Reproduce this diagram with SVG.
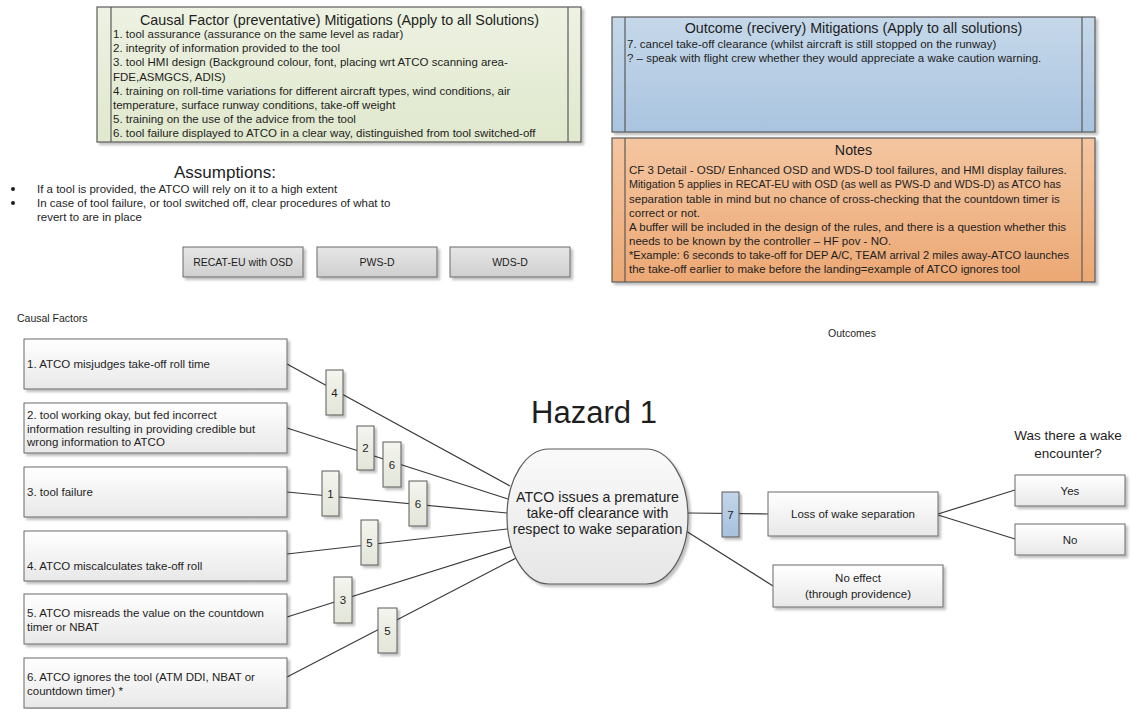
<svg xmlns="http://www.w3.org/2000/svg" width="1131" height="709" viewBox="0 0 1131 709">
<defs>
<linearGradient id="gGreen" x1="0" y1="0" x2="0" y2="1"><stop offset="0" stop-color="#edf2e2"/><stop offset="1" stop-color="#e0e8cd"/></linearGradient>
<linearGradient id="gBlue" x1="0" y1="0" x2="0" y2="1"><stop offset="0" stop-color="#c6d8ea"/><stop offset="1" stop-color="#a9c4df"/></linearGradient>
<linearGradient id="gOrange" x1="0" y1="0" x2="0" y2="1"><stop offset="0" stop-color="#f4c6a1"/><stop offset="1" stop-color="#eca874"/></linearGradient>
<linearGradient id="gBox" x1="0" y1="0" x2="0" y2="1"><stop offset="0" stop-color="#ffffff"/><stop offset="1" stop-color="#e8e8e8"/></linearGradient>
<linearGradient id="gLab" x1="0" y1="0" x2="0" y2="1"><stop offset="0" stop-color="#f4f5ef"/><stop offset="1" stop-color="#e2e5d8"/></linearGradient>
<linearGradient id="gLab7" x1="0" y1="0" x2="0" y2="1"><stop offset="0" stop-color="#c3d6ea"/><stop offset="1" stop-color="#a6c1de"/></linearGradient>
<linearGradient id="gBtn" x1="0" y1="0" x2="0" y2="1"><stop offset="0" stop-color="#e6e6e6"/><stop offset="1" stop-color="#cfcfcf"/></linearGradient>
<linearGradient id="gHaz" x1="0" y1="0" x2="0" y2="1"><stop offset="0" stop-color="#fafafa"/><stop offset="1" stop-color="#e6e6e6"/></linearGradient>
<filter id="sh" x="-10%" y="-10%" width="130%" height="140%"><feDropShadow dx="2.5" dy="2.5" stdDeviation="1.2" flood-color="#000" flood-opacity="0.25"/></filter>
</defs>
<style>
text{font-family:"Liberation Sans",Arial,sans-serif;fill:#1e1e1e}
.b{font-size:11.5px}
.t{font-size:14.3px}
.c{text-anchor:middle}
.s{font-size:10.5px}
.frame{stroke:#5a5a5a;stroke-width:1.2;filter:url(#sh)}
.inner{stroke:#5a5a5a;stroke-width:1.2}
.box{fill:url(#gBox);stroke:#6a6a6a;stroke-width:1;filter:url(#sh)}
.lab{fill:url(#gLab);stroke:#5a5a5a;stroke-width:1;filter:url(#sh)}
.btn{fill:url(#gBtn);stroke:#6a6a6a;stroke-width:1;filter:url(#sh)}
.con line{stroke:#3a3a3a;stroke-width:1.2}
</style>

<g id="preventative-mitigations">
<rect x="97" y="7" width="484" height="135" fill="url(#gGreen)" class="frame"/>
<line x1="111" y1="7" x2="111" y2="142" class="inner"/>
<line x1="568" y1="7" x2="568" y2="142" class="inner"/>
<text x="339.5" y="25" class="t c">Causal Factor (preventative) Mitigations (Apply to all Solutions)</text>
<text class="b" x="113" y="38">1. tool assurance (assurance on the same level as radar)</text>
<text class="b" x="113" y="52.2">2. integrity of information provided to the tool</text>
<text class="b" x="113" y="66.4">3. tool HMI design (Background colour, font, placing wrt ATCO scanning area-</text>
<text class="b" x="113" y="80.6">FDE,ASMGCS, ADIS)</text>
<text class="b" x="113" y="94.8">4. training on roll-time variations for different aircraft types, wind conditions, air</text>
<text class="b" x="113" y="109">temperature, surface runway conditions, take-off weight</text>
<text class="b" x="113" y="123.2">5. training on the use of the advice from the tool</text>
<text class="b" x="113" y="137.4">6. tool failure displayed to ATCO in a clear way, distinguished from tool switched-off</text>
</g>

<g id="recovery-mitigations">
<rect x="612" y="17" width="483" height="115" fill="url(#gBlue)" class="frame"/>
<line x1="625" y1="17" x2="625" y2="132" class="inner"/>
<line x1="1082" y1="17" x2="1082" y2="132" class="inner"/>
<text x="853.5" y="33" class="t c">Outcome (recivery) Mitigations (Apply to all solutions)</text>
<text class="b" x="627" y="48">7. cancel take-off clearance (whilst aircraft is still stopped on the runway)</text>
<text class="b" x="627" y="62">? – speak with flight crew whether they would appreciate  a wake caution warning.</text>
</g>

<g id="notes">
<rect x="612" y="138" width="483" height="144" fill="url(#gOrange)" class="frame"/>
<line x1="625" y1="138" x2="625" y2="282" class="inner"/>
<line x1="1082" y1="138" x2="1082" y2="282" class="inner"/>
<text x="853.5" y="155" class="t c">Notes</text>
<text class="b" x="629" y="174">CF 3 Detail - OSD/ Enhanced OSD and WDS-D tool failures, and HMI display failures.</text>
<text class="b" x="629" y="188" textLength="432" lengthAdjust="spacingAndGlyphs">Mitigation 5 applies in RECAT-EU with OSD (as well as PWS-D and WDS-D) as ATCO has</text>
<text class="b" x="629" y="203">separation table in mind but no chance of cross-checking that the countdown timer is</text>
<text class="b" x="629" y="217">correct or not.</text>
<text class="b" x="629" y="231">A buffer will be included in the design of the rules, and there is a question whether this</text>
<text class="b" x="629" y="245">needs to be known by the controller – HF pov - NO.</text>
<text class="b" x="629" y="259" textLength="440" lengthAdjust="spacingAndGlyphs">*Example: 6 seconds to take-off for DEP A/C, TEAM arrival 2 miles away-ATCO launches</text>
<text class="b" x="629" y="273">the take-off earlier to make before the landing=example of ATCO ignores tool</text>
</g>

<g id="assumptions">
<text x="225" y="178" class="c" style="font-size:17px">Assumptions:</text>
<circle cx="13" cy="189" r="2" fill="#1e1e1e"/>
<circle cx="13" cy="203" r="2" fill="#1e1e1e"/>
<text class="b" x="37" y="193">If a tool is provided, the ATCO will rely on it to a high extent</text>
<text class="b" x="37" y="207">In case of tool failure, or tool switched off, clear procedures of what to</text>
<text class="b" x="37" y="221">revert to are in place</text>
</g>

<g id="btn-recat"><rect x="183" y="247" width="120" height="30" class="btn"/><text x="243" y="266" class="s c">RECAT-EU with OSD</text></g>
<g id="btn-pws"><rect x="317" y="247" width="120" height="30" class="btn"/><text x="377" y="266" class="s c">PWS-D</text></g>
<g id="btn-wds"><rect x="450" y="247" width="120" height="30" class="btn"/><text x="510" y="266" class="s c">WDS-D</text></g>

<text id="causal-label" x="17" y="322" class="s">Causal Factors</text>
<text id="outcomes-label" x="852" y="337" class="s c">Outcomes</text>

<g class="con" id="connectors">
<line x1="287" y1="364" x2="510" y2="486"/>
<line x1="287" y1="428" x2="508" y2="499"/>
<line x1="287" y1="492" x2="507" y2="513"/>
<line x1="287" y1="554" x2="507" y2="529"/>
<line x1="287" y1="617" x2="513" y2="546"/>
<line x1="287" y1="677" x2="520" y2="556"/>
<line x1="688" y1="513" x2="768" y2="514"/>
<line x1="686" y1="531" x2="773" y2="586"/>
<line x1="938" y1="514" x2="1015" y2="490"/>
<line x1="938" y1="515" x2="1015" y2="539"/>
</g>

<g id="cf1"><rect x="24" y="339" width="263" height="50" class="box"/><text class="b" x="27" y="368">1. ATCO misjudges take-off roll time</text></g>
<g id="cf2"><rect x="24" y="403" width="263" height="50" class="box"/><text class="b" x="27" y="419">2. tool working okay, but fed incorrect</text><text class="b" x="27" y="432.5">information resulting in providing credible but</text><text class="b" x="27" y="446">wrong information to ATCO</text></g>
<g id="cf3"><rect x="24" y="467" width="263" height="50" class="box"/><text class="b" x="27" y="496">3. tool failure</text></g>
<g id="cf4"><rect x="24" y="531" width="263" height="50" class="box"/><text class="b" x="27" y="570">4. ATCO miscalculates take-off roll</text></g>
<g id="cf5"><rect x="24" y="594" width="263" height="50" class="box"/><text class="b" x="27" y="617">5. ATCO misreads the value on the countdown</text><text class="b" x="27" y="630.5">timer or NBAT</text></g>
<g id="cf6"><rect x="24" y="658" width="263" height="50" class="box"/><text class="b" x="27" y="681">6. ATCO ignores the tool (ATM DDI, NBAT or</text><text class="b" x="27" y="694.5">countdown timer) *</text></g>

<g id="m4"><rect x="326" y="370" width="17" height="45" class="lab"/><text x="334.5" y="396.5" class="b c">4</text></g>
<g id="m2"><rect x="357" y="426" width="17" height="44" class="lab"/><text x="365.5" y="452" class="b c">2</text></g>
<g id="m6a"><rect x="383" y="442" width="18" height="45" class="lab"/><text x="392" y="468.5" class="b c">6</text></g>
<g id="m1"><rect x="322" y="471" width="17" height="45" class="lab"/><text x="330.5" y="497.5" class="b c">1</text></g>
<g id="m6b"><rect x="409" y="481" width="18" height="45" class="lab"/><text x="418" y="507.5" class="b c">6</text></g>
<g id="m5a"><rect x="361" y="520" width="17" height="45" class="lab"/><text x="369.5" y="546.5" class="b c">5</text></g>
<g id="m3"><rect x="334" y="577" width="18" height="46" class="lab"/><text x="343" y="604" class="b c">3</text></g>
<g id="m5b"><rect x="378" y="608" width="19" height="45" class="lab"/><text x="387.5" y="634.5" class="b c">5</text></g>

<text id="hazard-title" x="594" y="423" class="c" style="font-size:31px">Hazard 1</text>
<g id="hazard">
<rect x="507" y="449" width="181" height="135" rx="42" ry="67" fill="url(#gHaz)" stroke="#5a5a5a" stroke-width="1.2" style="filter:url(#sh)"/>
<text x="597.5" y="502" class="c" style="font-size:14.2px">ATCO issues a premature</text>
<text x="597.5" y="518" class="c" style="font-size:14.2px">take-off clearance with</text>
<text x="597.5" y="534" class="c" style="font-size:14.2px">respect to wake separation</text>
</g>

<g id="m7"><rect x="722" y="492" width="17" height="45" fill="url(#gLab7)" stroke="#5a5a5a" stroke-width="1" style="filter:url(#sh)"/><text x="730.5" y="518.5" class="b c">7</text></g>

<g id="loss"><rect x="768" y="492" width="170" height="44" class="box"/><text x="853" y="518" class="b c">Loss of wake separation</text></g>
<g id="noeffect"><rect x="773" y="565" width="170" height="42" class="box"/><text x="858" y="582" class="b c">No effect</text><text x="858" y="598" class="b c">(through providence)</text></g>
<text id="q-label" class="c" style="font-size:13.5px"><tspan x="1068" y="440">Was there a wake</tspan><tspan x="1068" y="458">encounter?</tspan></text>
<g id="yes"><rect x="1015" y="475" width="110" height="31" class="box"/><text x="1070" y="494.5" class="b c">Yes</text></g>
<g id="no"><rect x="1015" y="524" width="110" height="31" class="box"/><text x="1070" y="543.5" class="b c">No</text></g>
</svg>
